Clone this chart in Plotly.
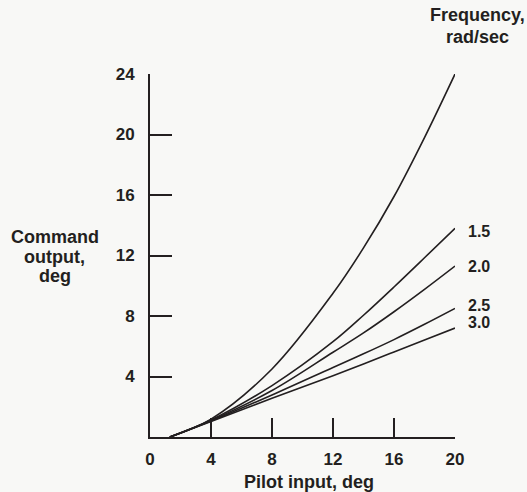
import plotly.graph_objects as go

# Pilot input, deg
pilot_input = [1.3, 4, 8, 12, 14, 16, 18, 20]
# Command output, deg for each frequency (rad/sec)
frequencies = ["0", "1.5", "2.0", "2.5", "3.0"]
out_0 = [0, 1.18, 4.5, 9.5, 12.5, 15.9, 19.8, 24.0]
out_15 = [0, 1.12, 3.4, 6.3, 8.05, 9.92, 11.85, 13.8]
out_20 = [0, 1.09, 3.07, 5.6, 6.88, 8.28, 9.76, 11.3]
out_25 = [0, 1.05, 2.78, 4.6, 5.5, 6.44, 7.45, 8.5]
out_30 = [0, 1.02, 2.56, 4.05, 4.83, 5.62, 6.41, 7.2]
series = [out_0, out_15, out_20, out_25, out_30]
# label vertical positions (data units) next to line ends
label_y = [24.1, 13.6, 11.3, 8.7, 7.6]

x_ticks = [0, 4, 8, 12, 16, 20]
y_ticks = [4, 8, 12, 16, 20, 24]

y_title_lines = ["Command", "output,", "deg"]
legend_title_lines = ["Frequency,", "rad/sec"]

BG = "#f8f8f6"
INK = "#231f20"
FONT = "Liberation Sans"

fig = go.Figure()
for name, ys in zip(frequencies, series):
    fig.add_trace(go.Scatter(
        x=pilot_input, y=ys, mode="lines", name=name,
        line=dict(color=INK, width=1.6, shape="spline", smoothing=1.0),
        showlegend=False, hoverinfo="skip"))

for name, ly in zip(frequencies, label_y):
    fig.add_annotation(x=20, y=ly, xref="x", yref="y", text=name,
                       showarrow=False, xanchor="left", xshift=11,
                       font=dict(family=FONT, size=16, color=INK, weight="bold"))

fig.update_layout(
    width=527, height=492,
    margin=dict(l=150, r=72, t=74, b=55),
    paper_bgcolor=BG, plot_bgcolor=BG,
    font=dict(family=FONT, size=17, color=INK),
    xaxis=dict(range=[0, 20], tickvals=x_ticks, ticktext=[str(v) for v in x_ticks],
               ticks="inside", ticklen=19, tickwidth=1.6, tickcolor=INK,
               showline=True, linecolor=INK, linewidth=2,
               showgrid=False, zeroline=False, ticklabelstandoff=6,
               tickfont=dict(family=FONT, size=17, color=INK, weight="bold")),
    yaxis=dict(range=[0, 24], tickvals=y_ticks, ticktext=[str(v) for v in y_ticks],
               ticks="inside", ticklen=22, tickwidth=1.6, tickcolor=INK,
               showline=True, linecolor=INK, linewidth=2,
               showgrid=False, zeroline=False, ticklabelstandoff=10,
               tickfont=dict(family=FONT, size=17, color=INK, weight="bold")),
)

# x-axis title
fig.add_annotation(x=0.52, y=0, xref="paper", yref="paper", yshift=-45,
                   text="Pilot input, deg", showarrow=False, yanchor="middle",
                   font=dict(family=FONT, size=18, color=INK, weight="bold"))
# y-axis title, one annotation per line for tight spacing
for i, line in enumerate(y_title_lines):
    fig.add_annotation(x=-0.312, y=0.5, xref="paper", yref="paper",
                       yshift=(1 - i) * 19.5 - 1,
                       text=line, showarrow=False,
                       xanchor="center", yanchor="middle",
                       font=dict(family=FONT, size=18, color=INK, weight="bold"))
# frequency header
for i, line in enumerate(legend_title_lines):
    fig.add_annotation(x=1.0, y=1.0, xref="paper", yref="paper",
                       xshift=22, yshift=59 - i * 22,
                       text=line, showarrow=False,
                       xanchor="center", yanchor="middle",
                       font=dict(family=FONT, size=18, color=INK, weight="bold"))

fig.write_html(
    "out.html",
    config={"displayModeBar": False},
    post_script="document.body.style.margin='0';"
                "document.body.style.background='" + BG + "';",
)
